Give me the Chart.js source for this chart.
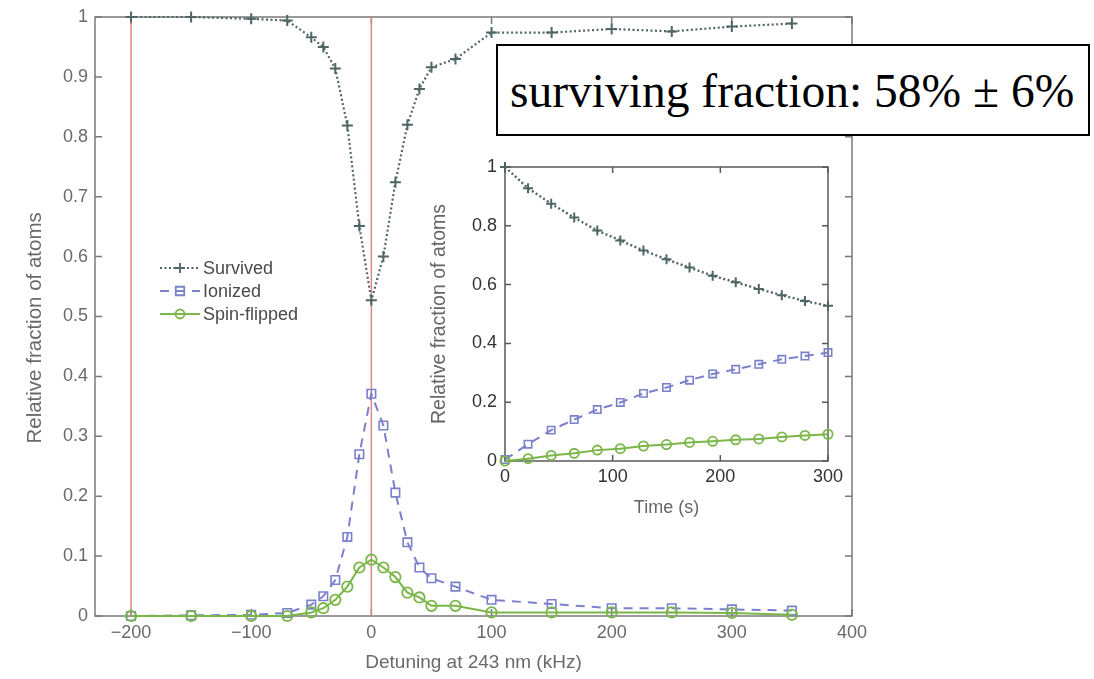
<!DOCTYPE html>
<html>
<head>
<meta charset="utf-8">
<script src="https://cdn.jsdelivr.net/npm/chart.js@4.4.1/dist/chart.umd.min.js"></script>
<style>
  html,body{margin:0;padding:0;background:#fff;}
  #wrap{position:relative;width:1094px;height:679px;background:#fff;overflow:hidden;}
  #main{position:absolute;left:0;top:0;}
  #inset{position:absolute;left:425px;top:150px;}
  #note{position:absolute;left:496px;top:44px;width:594px;height:92px;box-sizing:border-box;
        border:2px solid #000;background:#fff;}
  #note span{position:absolute;left:12px;top:22px;font-family:"Liberation Serif","Times New Roman",serif;
        font-size:47.5px;line-height:47.5px;color:#000;white-space:nowrap;}
</style>
</head>
<body>
<div id="wrap">
  <canvas id="main" width="1094" height="679"></canvas>
  <canvas id="inset" width="420" height="375"></canvas>
  <div id="note"><span>surviving fraction: 58% ± 6%</span></div>
</div>
<script>
// ---------- main chart data (detuning scan) ----------
const detuning = [-200,-150,-100,-70,-50,-40,-30,-20,-10,0,10,20,30,40,50,70,100,150,200,250,300,350];
const survived = [1.000,1.000,0.997,0.994,0.966,0.950,0.914,0.819,0.651,0.527,0.600,0.724,0.820,0.880,0.916,0.930,0.974,0.974,0.980,0.976,0.984,0.989];
const ionized  = [0.000,0.001,0.002,0.005,0.019,0.033,0.060,0.132,0.270,0.371,0.318,0.206,0.123,0.081,0.063,0.049,0.027,0.020,0.013,0.013,0.011,0.009];
const spinFlip = [0.000,0.000,0.000,0.000,0.006,0.013,0.027,0.049,0.081,0.094,0.081,0.065,0.039,0.031,0.017,0.017,0.006,0.006,0.006,0.006,0.005,0.002];
const markerLines = [-200, 0];
const xMainTicks = [-200,-100,0,100,200,300,400];
const yMainTicks = [0,0.1,0.2,0.3,0.4,0.5,0.6,0.7,0.8,0.9,1];

// ---------- inset data (time evolution) ----------
const timeS    = [0,21.4,42.9,64.3,85.7,107.1,128.6,150,171.4,192.9,214.3,235.7,257.1,278.6,300];
const survT    = [1.000,0.928,0.875,0.828,0.784,0.750,0.716,0.686,0.658,0.630,0.608,0.585,0.564,0.544,0.528];
const ionT     = [0.005,0.057,0.105,0.141,0.175,0.199,0.230,0.250,0.275,0.296,0.312,0.329,0.346,0.357,0.369];
const spinT    = [0.000,0.008,0.019,0.026,0.037,0.042,0.051,0.056,0.063,0.067,0.072,0.075,0.082,0.087,0.091];
const xInsetTicks = [0,100,200,300];
const yInsetTicks = [0,0.2,0.4,0.6,0.8,1];

const seriesNames = ['Survived','Ionized','Spin-flipped'];

// ---------- styles ----------
const C_SURV = '#506666';
const C_ION  = '#7b80cc';
const C_SPIN = '#7ab648';
const C_RED  = '#e08080';
const FONT = '"Liberation Sans", Arial, Helvetica, sans-serif';

const zip = (xs, ys) => xs.map((x, i) => ({x, y: ys[i]}));
const fmtNum = v => (v < 0 ? '\u2212' + Math.abs(v) : String(Math.round(v * 10) / 10));

const framePlugin = {
  id: 'frame',
  beforeDatasetsDraw(chart, args, opts) {
    const {ctx, chartArea: {left, right, top, bottom}, scales: {x, y}} = chart;
    ctx.save();
    ctx.strokeStyle = opts.color;
    ctx.lineWidth = opts.width;
    ctx.setLineDash([]);
    ctx.strokeRect(left, top, right - left, bottom - top);
    const L = opts.tick;
    ctx.beginPath();
    x.ticks.forEach(t => {
      const px = x.getPixelForValue(t.value);
      ctx.moveTo(px, bottom); ctx.lineTo(px, bottom - L);
      ctx.moveTo(px, top); ctx.lineTo(px, top + L);
    });
    y.ticks.forEach(t => {
      const py = y.getPixelForValue(t.value);
      ctx.moveTo(left, py); ctx.lineTo(left + L, py);
      ctx.moveTo(right, py); ctx.lineTo(right - L, py);
    });
    ctx.stroke();
    ctx.restore();
  }
};

function drawMarker(ctx, style, x, y, r) {
  ctx.beginPath();
  if (style === 'cross') {
    ctx.moveTo(x - r, y); ctx.lineTo(x + r, y);
    ctx.moveTo(x, y - r); ctx.lineTo(x, y + r);
  } else if (style === 'rect') {
    const s = r * Math.SQRT1_2;
    ctx.rect(x - s, y - s, 2 * s, 2 * s);
  } else {
    ctx.arc(x, y, r, 0, Math.PI * 2);
  }
  ctx.stroke();
}

const legendPlugin = {
  id: 'customLegend',
  afterDraw(chart, args, opts) {
    const {ctx} = chart;
    ctx.save();
    ctx.font = '18px ' + FONT;
    ctx.textBaseline = 'middle';
    ctx.textAlign = 'left';
    opts.items.forEach((it, i) => {
      const yy = opts.y + i * opts.step;
      ctx.strokeStyle = it.color;
      ctx.lineWidth = it.width;
      ctx.setLineDash(it.dash);
      ctx.beginPath();
      ctx.moveTo(opts.x, yy); ctx.lineTo(opts.x + 40, yy);
      ctx.stroke();
      ctx.setLineDash([]);
      ctx.lineWidth = 1.8;
      drawMarker(ctx, it.marker, opts.x + 20, yy, it.r);
      ctx.fillStyle = '#4a4a4a';
      ctx.fillText(it.label, opts.x + 43, yy + 1);
    });
    ctx.restore();
  }
};

// ---------- main chart ----------
new Chart(document.getElementById('main'), {
  type: 'line',
  data: {
    datasets: [
      ...markerLines.map(v => ({
        label: 'ref ' + v,
        data: [{x: v, y: 0}, {x: v, y: 1}],
        borderColor: C_RED, borderWidth: 1.4, pointRadius: 0, order: 10, clip: false
      })),
      {
        label: seriesNames[2], data: zip(detuning, spinFlip),
        borderColor: C_SPIN, borderWidth: 2, pointStyle: 'circle', pointRadius: 5.2,
        pointBorderWidth: 1.8, pointBackgroundColor: 'rgba(0,0,0,0)', pointBorderColor: C_SPIN,
        tension: 0, order: 1, clip: false
      },
      {
        label: seriesNames[1], data: zip(detuning, ionized),
        borderColor: C_ION, borderWidth: 2, borderDash: [9, 7], pointStyle: 'rect', pointRadius: 6,
        pointBorderWidth: 1.6, pointBackgroundColor: 'rgba(0,0,0,0)', pointBorderColor: C_ION,
        tension: 0, order: 2, clip: false
      },
      {
        label: seriesNames[0], data: zip(detuning, survived),
        borderColor: C_SURV, borderWidth: 2.2, borderDash: [2, 2.5], pointStyle: 'cross', pointRadius: 5.5,
        pointBorderWidth: 2, pointBorderColor: C_SURV,
        tension: 0, order: 3, clip: false
      }
    ]
  },
  options: {
    responsive: false, animation: false, devicePixelRatio: 1, events: [],
    layout: {padding: {left: 0, right: 242, top: 17, bottom: 0}},
    plugins: {
      legend: {display: false}, tooltip: {enabled: false},
      frame: {color: '#7a7a7a', width: 1.5, tick: 7},
      customLegend: {
        x: 160, y: 268, step: 23,
        items: [
          {label: seriesNames[0], color: C_SURV, width: 2, dash: [2, 2.5], marker: 'cross', r: 5},
          {label: seriesNames[1], color: C_ION, width: 2, dash: [9, 7], marker: 'rect', r: 6},
          {label: seriesNames[2], color: C_SPIN, width: 2, dash: [], marker: 'circle', r: 4.5}
        ]
      }
    },
    scales: {
      x: {
        type: 'linear', min: -230, max: 400,
        afterBuildTicks: s => { s.ticks = xMainTicks.map(v => ({value: v})); },
        afterFit: s => { s.height = 63; s.paddingLeft = 0; s.paddingRight = 0; },
        grid: {display: false, drawTicks: false},
        border: {display: false},
        ticks: {autoSkip: false, maxRotation: 0, padding: 6, color: '#6a6a6a',
                font: {family: FONT, size: 18}, callback: v => fmtNum(v)},
        title: {display: true, text: 'Detuning at 243 nm (kHz)', color: '#6a6a6a',
                font: {family: FONT, size: 19}, padding: {top: 0, bottom: 5}}
      },
      y: {
        type: 'linear', min: 0, max: 1,
        afterBuildTicks: s => { s.ticks = yMainTicks.map(v => ({value: v})); },
        afterFit: s => { s.width = 95; s.paddingTop = 0; s.paddingBottom = 0; },
        grid: {display: false, drawTicks: false},
        border: {display: false},
        ticks: {padding: 7, color: '#6a6a6a', font: {family: FONT, size: 18}, callback: v => fmtNum(v)},
        title: {display: true, text: 'Relative fraction of atoms    ', color: '#6a6a6a',
                font: {family: FONT, size: 20.5}, padding: {top: 23, bottom: 0}}
      }
    }
  },
  plugins: [framePlugin, legendPlugin]
});

// ---------- inset chart ----------
new Chart(document.getElementById('inset'), {
  type: 'line',
  data: {
    datasets: [
      {
        label: seriesNames[2], data: zip(timeS, spinT),
        borderColor: C_SPIN, borderWidth: 2, pointStyle: 'circle', pointRadius: 4.6,
        pointBorderWidth: 1.8, pointBackgroundColor: 'rgba(0,0,0,0)', pointBorderColor: C_SPIN,
        tension: 0, order: 1, clip: false
      },
      {
        label: seriesNames[1], data: zip(timeS, ionT),
        borderColor: C_ION, borderWidth: 2, borderDash: [9, 7], pointStyle: 'rect', pointRadius: 5.2,
        pointBorderWidth: 1.6, pointBackgroundColor: 'rgba(0,0,0,0)', pointBorderColor: C_ION,
        tension: 0, order: 2, clip: false
      },
      {
        label: seriesNames[0], data: zip(timeS, survT),
        borderColor: C_SURV, borderWidth: 2.4, borderDash: [2, 2.5], pointStyle: 'cross', pointRadius: 5,
        pointBorderWidth: 2, pointBorderColor: C_SURV,
        tension: 0, order: 3, clip: false
      }
    ]
  },
  options: {
    responsive: false, animation: false, devicePixelRatio: 1, events: [],
    layout: {padding: {left: 0, right: 17, top: 17, bottom: 0}},
    plugins: {
      legend: {display: false}, tooltip: {enabled: false},
      frame: {color: '#5a5a5a', width: 1.5, tick: 6}
    },
    scales: {
      x: {
        type: 'linear', min: 0, max: 300,
        afterBuildTicks: s => { s.ticks = xInsetTicks.map(v => ({value: v})); },
        afterFit: s => { s.height = 64; s.paddingLeft = 0; s.paddingRight = 0; },
        grid: {display: false, drawTicks: false},
        border: {display: false},
        ticks: {autoSkip: false, maxRotation: 0, padding: 5, color: '#333',
                font: {family: FONT, size: 18}, callback: v => fmtNum(v)},
        title: {display: true, text: 'Time (s)', color: '#666',
                font: {family: FONT, size: 18}, padding: {top: 0, bottom: 6}}
      },
      y: {
        type: 'linear', min: 0, max: 1,
        afterBuildTicks: s => { s.ticks = yInsetTicks.map(v => ({value: v})); },
        afterFit: s => { s.width = 80; s.paddingTop = 0; s.paddingBottom = 0; },
        grid: {display: false, drawTicks: false},
        border: {display: false},
        ticks: {padding: 8, color: '#333', font: {family: FONT, size: 18}, callback: v => fmtNum(v)},
        title: {display: true, text: 'Relative fraction of atoms', color: '#666',
                font: {family: FONT, size: 19.5}, padding: {top: 3, bottom: 0}}
      }
    }
  },
  plugins: [framePlugin]
});
</script>
</body>
</html>
